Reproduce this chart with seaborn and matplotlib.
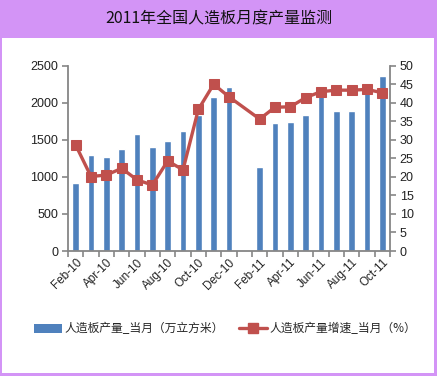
import numpy as np
import pandas as pd
import matplotlib
matplotlib.use("Agg")
import matplotlib.pyplot as plt
import seaborn as sns
from matplotlib.patches import Rectangle
from matplotlib.lines import Line2D
from matplotlib.patches import Patch

sns.set_style("white")
plt.rcParams['font.family'] = ['Liberation Sans', 'Noto Sans CJK SC', 'DejaVu Sans']

months = ["Feb-10", "Mar-10", "Apr-10", "May-10", "Jun-10", "Jul-10", "Aug-10", "Sep-10",
          "Oct-10", "Nov-10", "Dec-10", "Jan-11", "Feb-11", "Mar-11", "Apr-11", "May-11",
          "Jun-11", "Jul-11", "Aug-11", "Sep-11", "Oct-11"]
production = [920, 1295, 1268, 1380, 1578, 1403, 1488, 1623, 1840, 2077, 2217, np.nan,
              1137, 1731, 1745, 1835, 2100, 1893, 1893, 2130, 2365]
growth = [28.6, 20.1, 20.5, 22.3, 19.2, 17.8, 24.3, 21.9, 38.2, 45.0, 41.6, np.nan,
          35.6, 38.8, 38.9, 41.4, 43.0, 43.4, 43.4, 43.6, 42.7]
title = "2011年全国人造板月度产量监测"
bar_label = "人造板产量_当月（万立方米）"
line_label = "人造板产量增速_当月（%）"

W, H = 437, 376
fig = plt.figure(figsize=(W / 100, H / 100), dpi=100)
purple = "#D394F6"
fig.patch.set_facecolor(purple)
fig.add_artist(Rectangle((2 / W, 3 / H), (W - 5) / W, (H - 38 - 3) / H,
                         transform=fig.transFigure, facecolor="white", edgecolor="none", zorder=0))
fig.text(0.5, 1 - 19 / H, title, ha="center", va="center", fontsize=11.5,
         family=['Noto Sans CJK SC', 'DejaVu Sans'], color="#111111")

left, right, top, bottom = 68, 390, 65.7, 251
ax = fig.add_axes([left / W, 1 - bottom / H, (right - left) / W, (bottom - top) / H])
ax.set_facecolor("none")

df = pd.DataFrame({"month": months, "production": production, "growth": growth})
df["idx"] = np.arange(len(df))

sns.barplot(data=df, x="month", y="production", color="#4F81BD", width=0.42,
            saturation=1, ax=ax, order=months)
ax.set_xlim(-0.5, len(months) - 0.5)
ax.set_ylim(0, 2500)
ax.set_yticks(np.arange(0, 2501, 500))
ax.set_xlabel("")
ax.set_ylabel("")

ax2 = ax.twinx()
line_df = df.dropna(subset=["growth"])
sns.lineplot(data=line_df, x="idx", y="growth", color="#C0504D", linewidth=2.4,
             marker="s", markersize=7.5, markeredgecolor="#C0504D", ax=ax2, zorder=5)
ax2.set_ylim(0, 50)
ax2.set_yticks(np.arange(0, 51, 5))
ax2.set_xlim(-0.5, len(months) - 0.5)
ax2.set_xlabel("")
ax2.set_ylabel("")

axis_color = "#868686"
for a in (ax, ax2):
    for s in a.spines.values():
        s.set_visible(False)
ax.spines["left"].set_visible(True)
ax.spines["bottom"].set_visible(True)
ax2.spines["right"].set_visible(True)
for a in (ax, ax2):
    for s in a.spines.values():
        s.set_color(axis_color)
        s.set_linewidth(1.3)

ax.tick_params(axis="y", direction="out", length=4, width=1.2, color=axis_color,
               labelsize=9, labelcolor="#222222", left=True, pad=3)
ax2.tick_params(axis="y", direction="out", length=4, width=1.2, color=axis_color,
                labelsize=9, labelcolor="#222222", right=True, pad=3)

# category ticks between categories, labels every other month
ax.set_xticks(np.arange(-0.5, len(months), 1), minor=True)
ax.set_xticks(np.arange(0, len(months), 2))
ax.set_xticklabels(months[::2], rotation=45, ha="right", va="top",
                   rotation_mode="anchor", fontsize=8.5, color="#222222")
ax.tick_params(axis="x", which="major", length=0, pad=4)
ax.tick_params(axis="x", which="minor", direction="out", length=4, width=1.2,
               color=axis_color, bottom=True)

handles = [Patch(facecolor="#4F81BD", edgecolor="none"),
           Line2D([0], [0], color="#C0504D", linewidth=2.4, marker="s", markersize=6.5)]
fig.legend(handles, [bar_label, line_label], loc="center", bbox_to_anchor=(0.515, 1 - 329 / H),
           ncol=2, frameon=False, handlelength=2.4, handleheight=0.7,
           columnspacing=1.3, handletextpad=0.2,
           prop={"family": ['Noto Sans CJK SC', 'DejaVu Sans'], "size": 8.5})

fig.savefig("out.png", dpi=100, facecolor=fig.get_facecolor())
